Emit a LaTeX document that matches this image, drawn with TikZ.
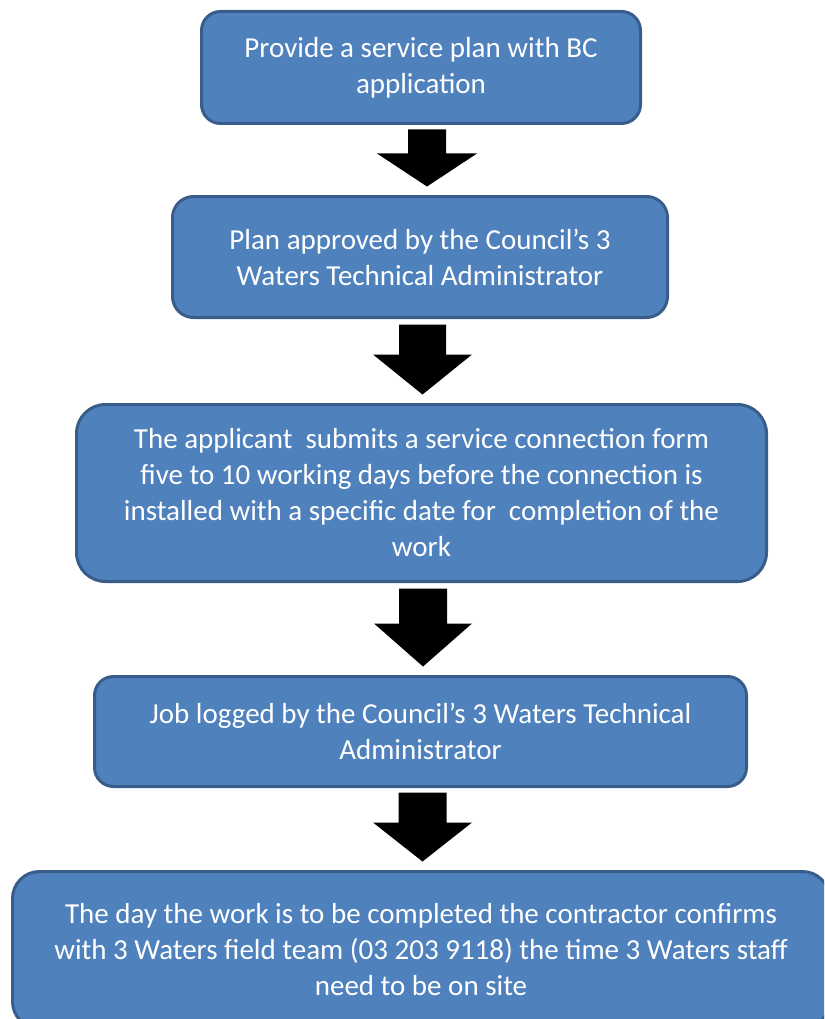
\documentclass[tikz,border=0pt]{standalone}
\usepackage{fontspec}
\setmainfont{Carlito}
\usetikzlibrary{calc}
\definecolor{boxfill}{HTML}{4F81BD}
\definecolor{boxline}{HTML}{385D8A}
\tikzset{
  flowbox/.style={draw=boxline, line width=3pt, fill=boxfill, text=white,
    align=center, inner sep=0pt, anchor=center,
    font=\fontsize{29}{36}\selectfont},
}
% #1 from, #2 to, #3 x offset, #4 top gap, #5 bottom gap, #6 shaft half width, #7 head half width, #8 head length
\newcommand{\barrow}[8]{%
  \fill[black] let \p1=($(#1.south)+(#3pt,-#4pt)$), \p2=($(#2.north)+(#3pt,#5pt)$) in
    (\x1-#6pt,\y1) -- (\x1+#6pt,\y1) -- (\x1+#6pt,\y2+#8pt) -- (\x1+#7pt,\y2+#8pt)
    -- (\x1,\y2) -- (\x1-#7pt,\y2+#8pt) -- (\x1-#6pt,\y2+#8pt) -- cycle;}
\begin{document}
\begin{tikzpicture}[x=1pt,y=-1pt]
\useasboundingbox (0,0) rectangle (824,1019);
\clip (0,0) rectangle (824,1019);
\node[flowbox, minimum width=439pt, minimum height=112pt, rounded corners=19pt] (b1) at (421,67.5)
  {Provide a service plan with BC\\application};
\node[flowbox, minimum width=495pt, minimum height=121pt, rounded corners=21pt] (b2) at (420,257)
  {Plan approved by the Council’s 3\\Waters Technical Administrator};
\node[flowbox, minimum width=690pt, minimum height=177pt, rounded corners=29pt] (b3) at (421.5,493)
  {The applicant\ \ submits a service connection form\\five to 10 working days before the connection is\\installed with a specific date for\ \ completion of the\\work};
\node[flowbox, minimum width=652pt, minimum height=110pt, rounded corners=19pt] (b4) at (420.5,731.5)
  {Job logged by the Council’s 3 Waters Technical\\Administrator};
\node[flowbox, minimum width=817pt, minimum height=157pt, rounded corners=27pt] (b5) at (421,950)
  {The day the work is to be completed the contractor confirms\\with 3 Waters field team (03 203 9118) the time 3 Waters staff\\need to be on site};
\barrow{b1}{b2}{6}{4.5}{8.5}{19}{50}{33}
\barrow{b2}{b3}{2.5}{5.5}{8.5}{23.5}{49.5}{40}
\barrow{b3}{b4}{1.5}{5.5}{8.5}{24}{49}{43}
\barrow{b4}{b5}{2}{4.5}{8.5}{24}{49.5}{39}
\end{tikzpicture}
\end{document}
